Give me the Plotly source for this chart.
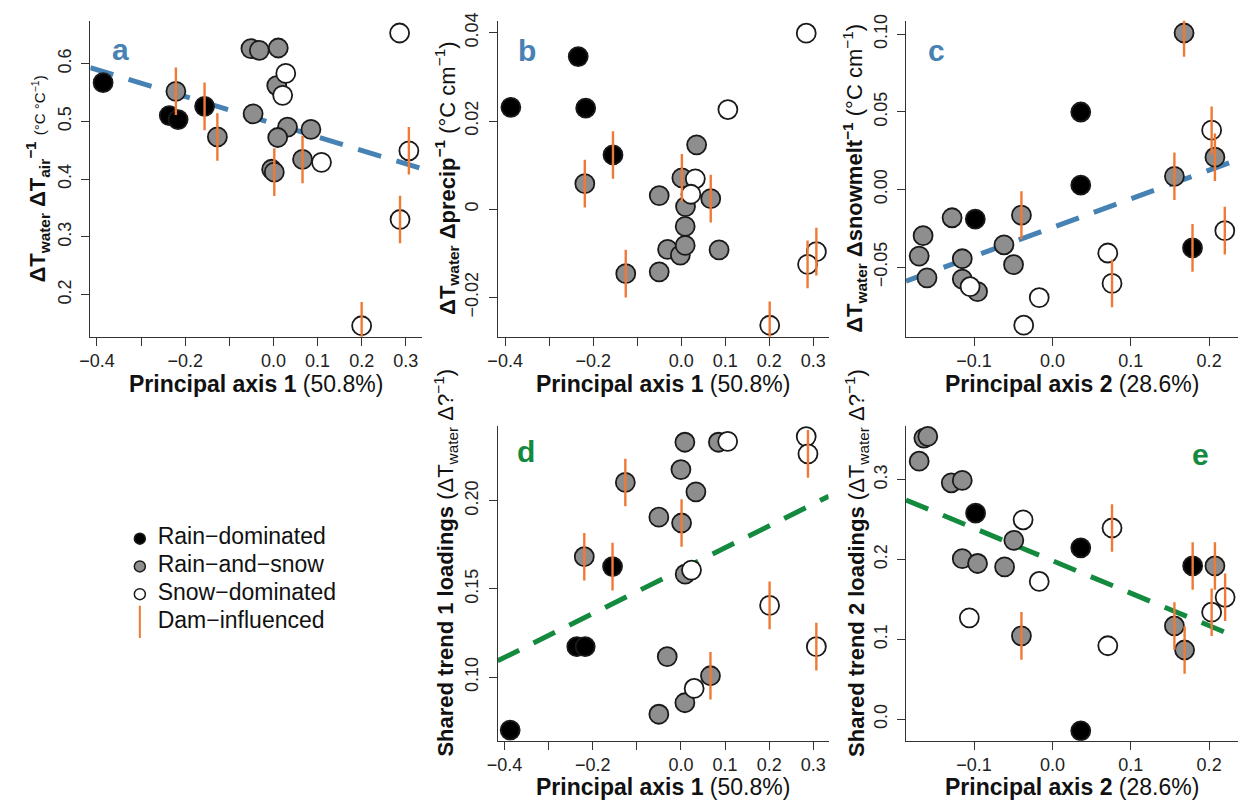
import plotly.graph_objects as go

W, H = 1243, 809

# ---------------- data ----------------
# regime codes: R = rain-dominated, M = rain-and-snow, S = snow-dominated ; dam: 1 = dam-influenced
a_x = [-0.386, -0.236, -0.216, -0.156, -0.221, -0.127, -0.051, -0.032, 0.011, -0.046, 0.0075, 0.032,
       0.085, 0.0097, -0.004, 0.002, 0.066, 0.028, 0.021, 0.109, 0.286, 0.307, 0.287, 0.200]
a_y = [0.567, 0.510, 0.503, 0.526, 0.552, 0.473, 0.626, 0.623, 0.627, 0.513, 0.562, 0.490,
       0.486, 0.472, 0.417, 0.412, 0.434, 0.583, 0.545, 0.429, 0.653, 0.449, 0.330, 0.146]
a_regime = ["R", "R", "R", "R", "M", "M", "M", "M", "M", "M", "M", "M",
            "M", "M", "M", "M", "M", "S", "S", "S", "S", "S", "S", "S"]
a_dam = [0, 0, 0, 1, 1, 1, 0, 0, 0, 0, 0, 0, 0, 0, 0, 1, 1, 0, 0, 0, 0, 1, 1, 1]
a_fit = [0.4963, -0.233]

b_x = [-0.387, -0.234, -0.217, -0.155, -0.219, -0.126, -0.050, -0.050, -0.031, -0.002, 0.009, 0.009,
       0.0097, 0.035, 0.0015, 0.067, 0.086, 0.032, 0.022, 0.106, 0.284, 0.307, 0.287, 0.201]
b_y = [0.0231, 0.0346, 0.0229, 0.0123, 0.0058, -0.0146, 0.0031, -0.0142, -0.0091, -0.0104, -0.0082, -0.0039,
       0.0006, 0.0146, 0.0071, 0.0024, -0.0092, 0.0069, 0.0034, 0.0226, 0.0399, -0.0096, -0.0125, -0.0263]
b_regime = a_regime
b_dam = [0, 0, 0, 1, 1, 1, 0, 0, 0, 0, 0, 0, 0, 0, 1, 1, 0, 0, 0, 0, 0, 1, 1, 1]

c_x = [-0.0984, 0.0362, 0.0362, 0.1788, -0.165, -0.170, -0.160, -0.128, -0.115, -0.115, -0.0955, -0.0395,
       -0.0618, -0.0496, 0.168, 0.1557, 0.2074, -0.105, -0.0168, -0.0366, 0.0707, 0.0761, 0.2032, 0.220]
c_y = [-0.0191, 0.0499, 0.0028, -0.0376, -0.0297, -0.0429, -0.0569, -0.0182, -0.0446, -0.0577, -0.0658, -0.0165,
       -0.0356, -0.0484, 0.1008, 0.0085, 0.0208, -0.0626, -0.0696, -0.0874, -0.0409, -0.0605, 0.0382, -0.0265]
c_regime = ["R", "R", "R", "R", "M", "M", "M", "M", "M", "M", "M", "M",
            "M", "M", "M", "M", "M", "S", "S", "S", "S", "S", "S", "S"]
c_dam = [0, 0, 0, 1, 0, 0, 0, 0, 0, 0, 0, 1, 0, 0, 1, 1, 1, 0, 0, 0, 0, 1, 1, 1]
c_fit = [-0.0245, 0.1846]

d_x = [-0.387, -0.236, -0.217, -0.155, -0.219, -0.126, -0.050, -0.050, -0.031, 0.0, 0.009, 0.009,
       0.0097, 0.034, 0.0015, 0.067, 0.085, 0.024, 0.030, 0.106, 0.284, 0.288, 0.201, 0.307]
d_y = [0.070, 0.1173, 0.1173, 0.1627, 0.1683, 0.2104, 0.1907, 0.079, 0.1117, 0.2177, 0.2332, 0.0855,
       0.1584, 0.2051, 0.1874, 0.1008, 0.2332, 0.1607, 0.0936, 0.2337, 0.2364, 0.2266, 0.1407, 0.1173]
d_regime = a_regime
d_dam = [0, 0, 0, 1, 1, 1, 0, 0, 0, 0, 0, 0, 0, 0, 1, 1, 0, 0, 0, 0, 0, 1, 1, 1]
d_fit = [0.1609, 0.1243]

e_x = [-0.098, 0.0362, 0.0362, 0.179, -0.164, -0.159, -0.170, -0.129, -0.115, -0.115, -0.0955, -0.0395,
       -0.0492, -0.061, 0.2074, 0.1557, 0.1687, -0.106, -0.0374, -0.0168, 0.0761, 0.0707, 0.2204, 0.2032]
e_y = [0.258, 0.2146, -0.0144, 0.1919, 0.352, 0.354, 0.323, 0.296, 0.299, 0.201, 0.195, 0.1044,
       0.224, 0.1907, 0.1919, 0.1168, 0.0867, 0.127, 0.2497, 0.1725, 0.2394, 0.092, 0.1527, 0.134]
e_regime = c_regime
e_dam = [0, 0, 0, 1, 0, 0, 0, 0, 0, 0, 0, 1, 0, 0, 1, 1, 1, 0, 0, 0, 1, 0, 1, 1]
e_fit = [0.1985, -0.4067]

axis1_ticks = [-0.4, -0.3, -0.2, -0.1, 0.0, 0.1, 0.2, 0.3]
axis1_labels = ["\u22120.4", "", "\u22120.2", "", "0.0", "0.1", "0.2", "0.3"]
axis2_ticks = [-0.1, 0.0, 0.1, 0.2]
axis2_labels = ["\u22120.1", "0.0", "0.1", "0.2"]
a_yticks = [0.2, 0.3, 0.4, 0.5, 0.6]
a_ylabels = ["0.2", "0.3", "0.4", "0.5", "0.6"]
b_yticks = [-0.02, 0.0, 0.02, 0.04]
b_ylabels = ["\u22120.02", "0", "0.02", "0.04"]
c_yticks = [-0.05, 0.0, 0.05, 0.10]
c_ylabels = ["\u22120.05", "0.00", "0.05", "0.10"]
d_yticks = [0.10, 0.15, 0.20]
d_ylabels = ["0.10", "0.15", "0.20"]
e_yticks = [0.0, 0.1, 0.2, 0.3]
e_ylabels = ["0.0", "0.1", "0.2", "0.3"]

legend_labels = ["Rain\u2212dominated", "Rain\u2212and\u2212snow", "Snow\u2212dominated", "Dam\u2212influenced"]

# ---------------- style ----------------
FONT = "Liberation Sans, Arial, Helvetica, sans-serif"
FILL = {"R": "#000000", "M": "#8e8e8e", "S": "#ffffff"}
DAM_COLOR = "#f07a35"
BLUE = "#4682b4"
GREEN = "#138a3e"
AX_COLOR = "#333333"


def px(x):
    return x / W


def py(y):
    return 1 - y / H


fig = go.Figure()

panels = [
    ("a", a_x, a_y, a_regime, a_dam, a_fit, BLUE, (80, 415), (13, 332), [-0.415, 0.3375], [0.127, 0.674],
     axis1_ticks, axis1_labels, a_yticks, a_ylabels),
    ("b", b_x, b_y, b_regime, b_dam, None, BLUE, (491, 825), (13, 332), [-0.417, 0.335], [-0.0289, 0.0427],
     axis1_ticks, axis1_labels, b_yticks, b_ylabels),
    ("c", c_x, c_y, c_regime, c_dam, c_fit, BLUE, (903, 1238), (13, 332), [-0.1868, 0.2369], [-0.0948, 0.1086],
     axis2_ticks, axis2_labels, c_yticks, c_ylabels),
    ("d", d_x, d_y, d_regime, d_dam, d_fit, GREEN, (491, 825), (422, 740), [-0.4154, 0.335], [0.064, 0.2425],
     axis1_ticks, axis1_labels, d_yticks, d_ylabels),
    ("e", e_x, e_y, e_regime, e_dam, e_fit, GREEN, (903, 1238), (422, 740), [-0.1868, 0.2369], [-0.0268, 0.3673],
     axis2_ticks, axis2_labels, e_yticks, e_ylabels),
]

layout_axes = {}
for i, (name, xs, ys, reg, dam, fit, col, xd, yd, xr, yr, xt, xl, yt, yl) in enumerate(panels):
    n = i + 1
    xa = "x" if n == 1 else f"x{n}"
    ya = "y" if n == 1 else f"y{n}"
    if fit is not None:
        fx = [xr[0], xr[1]]
        fy = [fit[0] + fit[1] * v for v in fx]
        fig.add_trace(go.Scatter(x=fx, y=fy, mode="lines", xaxis=xa, yaxis=ya, showlegend=False,
                                 line=dict(color=col, width=5, dash="24px,16px")))
    fig.add_trace(go.Scatter(x=xs, y=ys, mode="markers", xaxis=xa, yaxis=ya, showlegend=False,
                             marker=dict(size=19, color=[FILL[r] for r in reg],
                                         line=dict(color="#1a1a1a", width=1.8))))
    dx = [v for v, d in zip(xs, dam) if d]
    dy = [v for v, d in zip(ys, dam) if d]
    fig.add_trace(go.Scatter(x=dx, y=dy, mode="markers", xaxis=xa, yaxis=ya, showlegend=False,
                             marker=dict(symbol="line-ns", size=34, color=DAM_COLOR,
                                         line=dict(color=DAM_COLOR, width=2.4))))
    common = dict(showgrid=False, zeroline=False, showline=True, linecolor=AX_COLOR, linewidth=1,
                  ticks="outside", ticklen=8, tickwidth=1, tickcolor=AX_COLOR,
                  tickfont=dict(family=FONT, size=18, color="#222222"), tickmode="array")
    layout_axes["xaxis" if n == 1 else f"xaxis{n}"] = dict(
        domain=[px(xd[0]), px(xd[1])], range=xr, anchor=ya, tickvals=xt, ticktext=xl, **common)
    layout_axes["yaxis" if n == 1 else f"yaxis{n}"] = dict(
        domain=[py(yd[1]), py(yd[0])], range=yr, anchor=xa, tickvals=yt, ticktext=yl, tickangle=-90,
        ticklabelstandoff=3, **common)

# ---------------- legend (own small axis, one unit = one pixel) ----------------
LEG_X = (100, 380)
LEG_Y = (515, 640)
leg_rows = [536 + 28 * k for k in range(4)]
fig.add_trace(go.Scatter(x=[130, 130, 130], y=leg_rows[:3], mode="markers", xaxis="x6", yaxis="y6",
                         showlegend=False,
                         marker=dict(size=11, color=[FILL["R"], FILL["M"], FILL["S"]],
                                     line=dict(color="#1a1a1a", width=1.5))))
fig.add_trace(go.Scatter(x=[130], y=[leg_rows[3]], mode="markers", xaxis="x6", yaxis="y6", showlegend=False,
                         marker=dict(symbol="line-ns", size=23, line=dict(color=DAM_COLOR, width=2))))
fig.add_trace(go.Scatter(x=[148] * 4, y=leg_rows, mode="text", text=legend_labels, textposition="middle right",
                         xaxis="x6", yaxis="y6", showlegend=False, cliponaxis=False,
                         textfont=dict(family=FONT, size=23, color="#111111")))
layout_axes["xaxis6"] = dict(domain=[px(LEG_X[0]), px(LEG_X[1])], range=list(LEG_X), visible=False, anchor="y6")
layout_axes["yaxis6"] = dict(domain=[py(LEG_Y[1]), py(LEG_Y[0])], range=[LEG_Y[1], LEG_Y[0]], visible=False,
                             anchor="x6")

# ---------------- annotations ----------------
ann = []
panel_labels = [("a", 110, 42, BLUE), ("b", 521, 43, BLUE), ("c", 934, 43, BLUE),
                ("d", 520, 448, GREEN), ("e", 1200, 451, GREEN)]
for t, x, y, c in panel_labels:
    ann.append(dict(text=f"<b>{t}</b>", x=px(x), y=py(y), xref="paper", yref="paper", showarrow=False,
                    xanchor="center", yanchor="middle", font=dict(family=FONT, size=30, color=c)))

xtitle1 = "<b>Principal axis 1</b> (50.8%)"
xtitle2 = "<b>Principal axis 2</b> (28.6%)"
for t, x, y in [(xtitle1, 247.5, 380), (xtitle1, 658, 380), (xtitle2, 1070.5, 380),
                (xtitle1, 658, 787), (xtitle2, 1070.5, 787)]:
    ann.append(dict(text=t, x=px(x), y=py(y), xref="paper", yref="paper", showarrow=False,
                    xanchor="center", yanchor="middle", font=dict(family=FONT, size=23, color="#111111")))

ytitles = [
    ("<b>\u0394T<sub>water</sub> \u0394T<sub>air</sub><sup>\u22121</sup></b> "
     "<span style='font-size:15px'>(\u00b0C \u00b0C<sup>\u22121</sup>)</span>", 27, 172.5),
    ("<b>\u0394T<sub>water</sub> \u0394precip<sup>\u22121</sup></b> (\u00b0C cm<sup>\u22121</sup>)", 440, 172.5),
    ("<b>\u0394T<sub>water</sub> \u0394snowmelt<sup>\u22121</sup></b> (\u00b0C cm<sup>\u22121</sup>)", 851, 172),
    ("<b>Shared trend 1 loadings</b> (\u0394T<sub>water</sub> \u0394?<sup>\u22121</sup>)", 438, 560),
    ("<b>Shared trend 2 loadings</b> (\u0394T<sub>water</sub> \u0394?<sup>\u22121</sup>)", 853, 560),
]
for t, x, y in ytitles:
    ann.append(dict(text=t, x=px(x), y=py(y), xref="paper", yref="paper", showarrow=False, textangle=-90,
                    xanchor="center", yanchor="middle", font=dict(family=FONT, size=22, color="#111111")))

fig.update_layout(width=W, height=H, margin=dict(l=0, r=0, t=0, b=0), autosize=False,
                  paper_bgcolor="white", plot_bgcolor="rgba(0,0,0,0)", showlegend=False,
                  font=dict(family=FONT), annotations=ann, **layout_axes)

fig.write_html("out.html", config={"displayModeBar": False})
